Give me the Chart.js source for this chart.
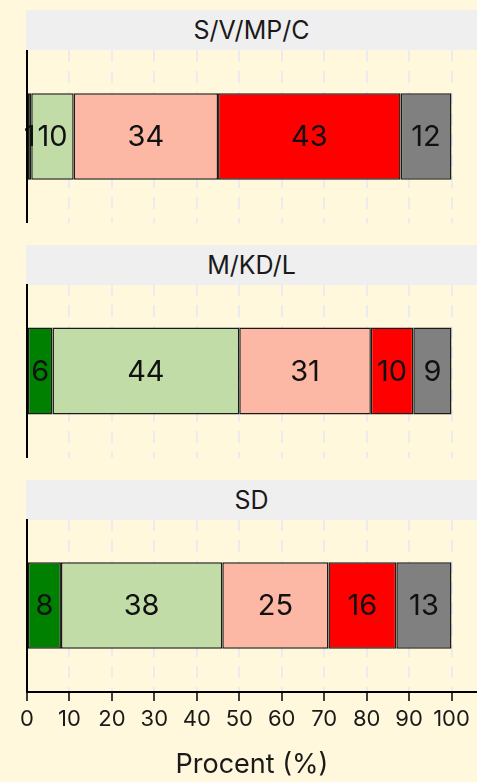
<!DOCTYPE html>
<html>
<head>
<meta charset="utf-8">
<script src="https://cdn.jsdelivr.net/npm/chart.js@4"></script>
<style>
  body { margin: 0; background: #fff8dc; width: 477px; height: 782px; overflow: hidden; position: relative; font-family: Inter, sans-serif; }
  .strip { position: absolute; left: 26px; width: 451px; height: 40px; line-height: 40px; background: #efefef; text-align: center; font-size: 25px; color: #1a1a1a; }
  canvas { position: absolute; left: 0; }
</style>
</head>
<body>
<div class="strip" style="top:10px">S/V/MP/C</div>
<canvas id="p0" width="477" height="173" style="top:50px"></canvas>
<div class="strip" style="top:245px">M/KD/L</div>
<canvas id="p1" width="477" height="174" style="top:284px"></canvas>
<div class="strip" style="top:480px">SD</div>
<canvas id="p2" width="477" height="263" style="top:519px"></canvas>
<script>
// panels (facets)
const panels = ["S/V/MP/C", "M/KD/L", "SD"];

// series values per panel, in percent
const darkGreen = [1, 6, 8];
const lightGreen = [10, 44, 38];
const salmon = [34, 31, 25];
const red = [43, 10, 16];
const grey = [12, 9, 13];

const seriesList = [darkGreen, lightGreen, salmon, red, grey];
const colors = ["#008000", "#c2dca8", "#fdb8a5", "#ff0000", "#808080"];

const xTitle = "Procent (%)";
const font = "Inter, sans-serif";

const barLabels = {
  id: "barLabels",
  afterDatasetsDraw(chart) {
    const ctx = chart.ctx;
    ctx.save();
    ctx.font = "29px " + font;
    ctx.fillStyle = "#111";
    ctx.textAlign = "center";
    ctx.textBaseline = "middle";
    chart.data.datasets.forEach((ds, i) => {
      chart.getDatasetMeta(i).data.forEach((el, j) => {
        const v = ds.data[j];
        ctx.fillText(String(v), (el.x + el.base) / 2, el.y + 1);
      });
    });
    // axis line on top, like the original
    const a = chart.chartArea;
    ctx.strokeStyle = "#000";
    ctx.lineWidth = 2;
    ctx.beginPath();
    ctx.moveTo(a.left, a.top);
    ctx.lineTo(a.left, a.bottom);
    ctx.stroke();
    ctx.restore();
  },
};

const makePanel = (idx) => {
  const last = idx === panels.length - 1;
  const ctx = document.getElementById("p" + idx).getContext("2d");
  new Chart(ctx, {
    type: "bar",
    data: {
      labels: [panels[idx]],
      datasets: seriesList.map((s, k) => ({
        data: [s[idx]],
        backgroundColor: colors[k],
        borderColor: "#1a1a1a",
        borderWidth: 1.5,
        borderSkipped: false,
        barPercentage: 0.5,
        categoryPercentage: 1,
      })),
    },
    options: {
      indexAxis: "y",
      responsive: false,
      animation: false,
      events: [],
      layout: { padding: 0 },
      plugins: { legend: { display: false }, tooltip: { enabled: false } },
      scales: {
        x: {
          type: "linear",
          stacked: true,
          min: 0,
          max: 106,
          ticks: {
            display: last,
            stepSize: 10,
            includeBounds: false,
            color: "#1a1a1a",
            font: { family: font, size: 22 },
            padding: 5,
            maxRotation: 0,
            autoSkip: false,
          },
          grid: {
            color: "#ebebf0",
            lineWidth: 2,
            drawTicks: last,
            tickLength: 9,
            tickColor: "#000",
            tickWidth: 1.5,
          },
          border: { display: last, color: "#000", width: 2, dash: [12, 9] },
          title: {
            display: last,
            text: xTitle,
            color: "#1a1a1a",
            font: { family: font, size: 27 },
            padding: { top: 0, bottom: 1 },
          },
          afterFit: (s) => {
            s.height = last ? 90 : 0;
          },
        },
        y: {
          stacked: true,
          ticks: { display: false },
          grid: { display: false },
          border: { display: true, color: "#000", width: 2 },
          afterFit: (s) => {
            s.width = 27;
          },
        },
      },
    },
    plugins: [barLabels],
  });
};

panels.forEach((p, i) => makePanel(i));
</script>
</body>
</html>
